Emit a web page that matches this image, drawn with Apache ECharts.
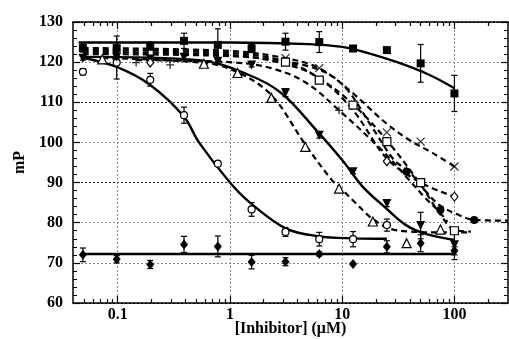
<!DOCTYPE html>
<html><head><meta charset="utf-8">
<script src="https://cdn.jsdelivr.net/npm/echarts@6/dist/echarts.min.js"></script>
<style>html,body{margin:0;padding:0;background:#fff}#c{width:509px;height:339px}</style>
</head><body><div id="c"></div>
<script>
// ---- data ----
const concs = [0.049, 0.098, 0.195, 0.39, 0.78, 1.56, 3.125, 6.25, 12.5, 25, 50, 100];

const filledSquareY   = [123.5, 123.5, 124.0, 125.3, 124.3, 123.4, 125.1, 125.0, 123.4, 123.0, 119.7, 112.2];
const filledSquareErr = [1.0, 3.0, 1.0, 1.9, 4.0, 1.0, 2.1, 2.6, 0.5, 0.5, 4.7, 4.5];

const openCircleX   = [0.049, 0.098, 0.195, 0.39, 0.78, 1.56, 3.125, 6.25, 12.5, 25];
const openCircleY   = [117.6, 119.9, 115.6, 106.8, 94.7, 83.3, 77.7, 75.9, 75.9, 79.4];
const openCircleErr = [0.8, 4.1, 1.6, 2.0, 0.5, 1.7, 1.1, 1.7, 1.9, 1.5];

const filledDiamondY   = [72.0, 70.9, 69.6, 74.6, 74.1, 70.2, 70.3, 72.2, 69.7, 74.0, 74.9, 73.0];
const filledDiamondErr = [1.7, 0.9, 1.0, 2.0, 2.6, 1.7, 1.0, 0.5, 0.3, 1.5, 2.1, 1.0];

const downTriY   = [121.0, 121.3, 120.8, 121.2, 120.2, 119.3, 112.4, 101.8, 92.7, 84.8, 79.3, 74.5];
const downTriErr = [0.5, 0.5, 0.5, 0.5, 0.5, 0.5, 1.0, 0.7, 0.5, 0.8, 3.3, 3.7];

const openTriX = [0.073, 0.586, 1.17, 2.34, 4.69, 9.38, 18.75, 37.5, 75];
const openTriY = [120.7, 119.6, 117.3, 111.1, 98.9, 88.5, 80.3, 74.9, 78.3];

const crossX = [3.125, 6.25, 25, 50, 100];
const crossY = [121.0, 118.5, 102.5, 100.2, 94.0];

const openSquareX = [3.125, 6.25, 12.5, 25, 50, 100];
const openSquareY = [120.0, 115.5, 109.3, 100.2, 90.0, 78.0];

const openDiamondX = [0.195, 25, 100];
const openDiamondY = [119.9, 95.3, 86.5];

const plusX = [0.146, 0.293, 9.38, 37.5];
const plusY = [119.9, 119.3, 108.0, 93.1];

const filledCircleX = [37.5, 75, 150];
const filledCircleY = [92.7, 83.2, 80.7];

// fitted curves, read as points off the picture
const fitFilledSquareX = [0.045, 1, 5, 10, 15, 30, 60, 100];
const fitFilledSquareY = [124.9, 124.9, 124.5, 123.8, 122.7, 120.1, 116.8, 113.5];
const fitOpenCircleX = [0.049, 0.098, 0.195, 0.39, 0.53, 1.0, 1.48, 3.125, 6.25, 12.5, 25];
const fitOpenCircleY = [121.1, 118.8, 114.3, 106.4, 100.0, 90.0, 85.2, 78.6, 76.6, 76.1, 76.0];
const fitFilledDiamondX = [0.049, 100];
const fitFilledDiamondY = [72.2, 72.2];
const fitDownTriX = [0.049, 0.53, 1.48, 2.9, 5.9, 10, 15.2, 24.6, 37, 55.6, 100];
const fitDownTriY = [121.3, 120.5, 116.8, 112.2, 103.0, 95.6, 89.0, 83.6, 79.4, 77.2, 75.7];
const fitOpenTriX = [0.073, 0.6, 1.17, 2.34, 4.69, 8.1, 10, 13.3, 18, 26, 40, 75, 140];
const fitOpenTriY = [121.0, 119.8, 117.5, 111.8, 99.5, 90.6, 88.2, 84.8, 81.3, 78.6, 77.8, 77.6, 77.6];
const fitCrossX = [0.049, 1, 3.125, 6.25, 11.5, 24.6, 39.6, 63.6, 100];
const fitCrossY = [123.5, 122.8, 121.0, 118.5, 113.1, 104.8, 100.6, 97.4, 94.0];
const fitOpenSquareX = [0.049, 1, 3.125, 6.25, 12.5, 25, 50, 75, 100, 140];
const fitOpenSquareY = [123.0, 122.3, 120.2, 116.0, 109.5, 100.5, 89.5, 82.0, 78.2, 77.8];
const fitOpenDiamondX = [0.049, 1, 3.125, 6.25, 12.5, 25, 50, 100];
const fitOpenDiamondY = [122.5, 121.8, 119.5, 116.0, 108.0, 96.0, 90.0, 86.5];
const fitPlusX = [0.146, 1, 2.34, 4.69, 9.38, 22.7, 39.6, 54, 73.5, 86.5];
const fitPlusY = [120.5, 120.0, 118.5, 115.0, 108.0, 98.0, 90.6, 86.4, 82.7, 80.2];
const fitFilledCircleX = [0.049, 1, 5, 10, 18.75, 29, 39.6, 54, 73.5, 110, 150, 300];
const fitFilledCircleY = [122.0, 121.5, 119.0, 114.5, 103.5, 95.6, 92.7, 88.2, 84.4, 81.9, 80.7, 80.5];

// axis ticks
const xMajorTicks = [0.1, 1, 10, 100];
const xMinorTicks = [0.05, 0.06, 0.07, 0.08, 0.09, 0.2, 0.3, 0.4, 0.5, 0.6, 0.7, 0.8, 0.9,
  2, 3, 4, 5, 6, 7, 8, 9, 20, 30, 40, 50, 60, 70, 80, 90, 200];
const xTickLabels = ['0.1', '1', '10', '100'];

// ---- chart ----
const font = {fontFamily: 'Liberation Serif', fontWeight: 'bold', fontSize: 16, color: '#000'};
const pairs = (xs, ys) => xs.map((x, i) => [x, ys[i]]);

function fit(xs, ys, dashed) {
  return {type: 'line', data: pairs(xs, ys), smooth: 0.35, symbol: 'none',
    silent: true, z: 2, xAxisIndex: 0, yAxisIndex: 0,
    lineStyle: {color: '#000', width: dashed ? 2.2 : 2.4, type: dashed ? [6, 4] : 'solid'}};
}
function pts(xs, ys, symbol, size, filled, extra) {
  return Object.assign({type: 'scatter', data: pairs(xs, ys), symbol: symbol, symbolSize: size,
    z: 4, xAxisIndex: 0, yAxisIndex: 0, silent: true,
    itemStyle: {color: filled ? '#000' : '#fff', borderColor: '#000', borderWidth: filled ? 0 : 1.2, opacity: 1}}, extra || {});
}
function errs(xs, ys, es) {
  return {type: 'custom', xAxisIndex: 0, yAxisIndex: 0, z: 3, silent: true,
    data: xs.map((x, i) => [x, ys[i] - es[i], ys[i] + es[i]]),
    encode: {x: 0, y: [1, 2]},
    renderItem: function (params, api) {
      const x = api.value(0);
      const a = api.coord([x, api.value(1)]), b = api.coord([x, api.value(2)]);
      const w = 3, st = {stroke: '#000', lineWidth: 1.2};
      return {type: 'group', children: [
        {type: 'line', shape: {x1: a[0], y1: a[1], x2: b[0], y2: b[1]}, style: st},
        {type: 'line', shape: {x1: a[0] - w, y1: a[1], x2: a[0] + w, y2: a[1]}, style: st},
        {type: 'line', shape: {x1: b[0] - w, y1: b[1], x2: b[0] + w, y2: b[1]}, style: st}
      ]};
    }};
}
const crossPath = 'path://M0,0L10,10M10,0L0,10';
const plusPath = 'path://M5,0L5,10M0,5L10,5';
const lineSym = {itemStyle: {color: 'rgba(0,0,0,0)', borderColor: '#000', borderWidth: 1.3}};

function xAx(pos, major, withLine) {
  return {type: 'log', logBase: 10, min: 0.04, max: 300, position: pos, gridIndex: 0,
    axisLine: {show: withLine, onZero: false, lineStyle: {color: '#000', width: 1.5}},
    axisTick: {show: true, inside: true, length: major ? 7 : 4, customValues: major ? xMajorTicks : xMinorTicks,
      lineStyle: {color: '#000', width: 1.2}},
    axisLabel: {show: false}, splitLine: {show: false}, minorTick: {show: false}};
}
const xMain = xAx('bottom', true, true);
xMain.axisLabel = Object.assign({show: true, customValues: xMajorTicks, margin: 4,
  formatter: v => xTickLabels[xMajorTicks.indexOf(Math.round(v * 1000) / 1000)] || ''}, font);
xMain.splitLine = {show: true, lineStyle: {color: '#8a8a8a', type: [2, 2], width: 1}};
xMain.name = '[Inhibitor] (\u03bcM)';
xMain.nameLocation = 'middle';
xMain.nameGap = 18;
xMain.nameMoveOverlap = false;
xMain.nameTextStyle = font;

function yAx(pos, main) {
  return {type: 'value', min: 60, max: 130, interval: 10, position: pos,
    axisLine: {show: true, onZero: false, lineStyle: {color: '#000', width: 1.5}},
    axisTick: {show: true, inside: true, length: 7, lineStyle: {color: '#000', width: 1.2}},
    minorTick: {show: true, splitNumber: 5, length: 4, lineStyle: {color: '#000', width: 1}},
    axisLabel: main ? Object.assign({show: true, margin: 10}, font) : {show: false},
    splitLine: main ? {show: true, lineStyle: {type: [2, 2], width: 1,
      color: ['#000', '#8a8a8a', '#8a8a8a', '#222', '#8a8a8a', '#222', '#8a8a8a', '#000']}} : {show: false},
    name: main ? 'mP' : '', nameLocation: 'middle', nameGap: 45, nameMoveOverlap: false, nameTextStyle: font};
}

const option = {
  animation: false,
  backgroundColor: '#fff',
  grid: {left: 73, right: 1, top: 22, bottom: 36, containLabel: false, outerBoundsMode: 'none'},
  xAxis: [xMain, xAx('bottom', false, false), xAx('top', true, true), xAx('top', false, false)],
  yAxis: [yAx('left', true), yAx('right', false)],
  series: [
    fit(fitFilledSquareX, fitFilledSquareY, false),
    fit(fitOpenCircleX, fitOpenCircleY, false),
    fit(fitFilledDiamondX, fitFilledDiamondY, false),
    fit(fitDownTriX, fitDownTriY, false),
    fit(fitOpenTriX, fitOpenTriY, true),
    fit(fitCrossX, fitCrossY, true),
    fit(fitOpenSquareX, fitOpenSquareY, true),
    fit(fitOpenDiamondX, fitOpenDiamondY, true),
    fit(fitPlusX, fitPlusY, true),
    fit(fitFilledCircleX, fitFilledCircleY, true),
    errs(concs, filledSquareY, filledSquareErr),
    errs(openCircleX, openCircleY, openCircleErr),
    errs(concs, filledDiamondY, filledDiamondErr),
    errs(concs, downTriY, downTriErr),
    pts(concs, filledSquareY, 'rect', 8, true),
    pts(openCircleX, openCircleY, 'circle', 7, false),
    pts(concs, filledDiamondY, 'diamond', [8, 10], true),
    pts(concs, downTriY, 'triangle', 9, true, {symbolRotate: 180}),
    pts(openTriX, openTriY, 'triangle', 9, false),
    pts(crossX, crossY, crossPath, 8, false, lineSym),
    pts(openSquareX, openSquareY, 'rect', 8, false),
    pts(openDiamondX, openDiamondY, 'diamond', [7, 9], false),
    pts(plusX, plusY, plusPath, 8, false, lineSym),
    pts(filledCircleX, filledCircleY, 'circle', 8, true)
  ]
};
const chart = echarts.init(document.getElementById('c'), null, {renderer: 'canvas'});
chart.setOption(option);
</script></body></html>
